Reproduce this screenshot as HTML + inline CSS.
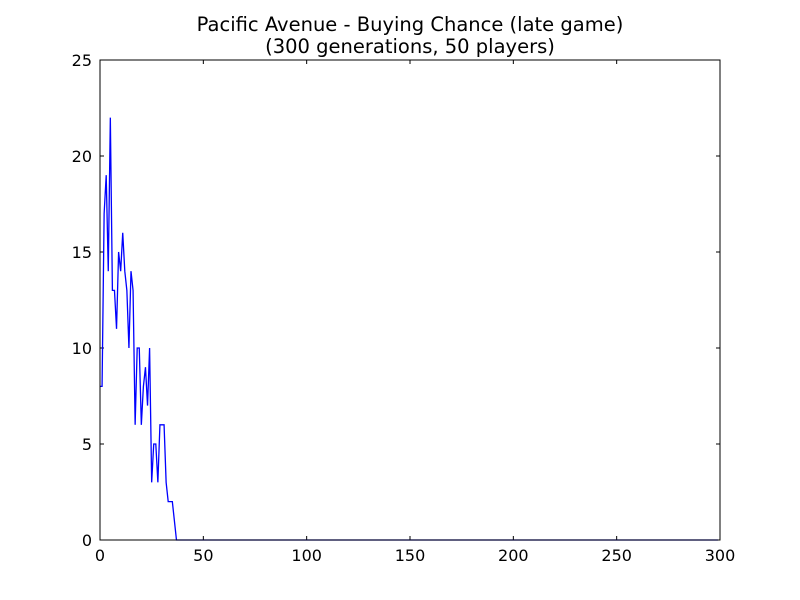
<!DOCTYPE html>
<html><head><meta charset="utf-8"><style>
body{margin:0;background:#fff}
svg{display:block;font-family:"DejaVu Sans","Liberation Sans",sans-serif}
</style></head><body>
<svg id="chart" width="800" height="600" viewBox="0 0 800 600">
<rect width="800" height="600" fill="#fff"/>
<text x="410" y="31" text-anchor="middle" font-size="19.5">Pacific Avenue - Buying Chance (late game)</text>
<text x="410" y="53" text-anchor="middle" font-size="19.5">(300 generations, 50 players)</text>
<g id="ticks"></g>
<polyline id="line" fill="none" stroke="#0000ff" stroke-width="1.3"/>
<rect x="100" y="60" width="620" height="480" fill="none" stroke="#000" stroke-width="1"/>
</svg>
<script>
const values=[8,8,17,19,14,22,13,13,11,15,14,16,14,13,10,14,13,6,10,10,6,8,9,7,10,3,5,5,3,6,6,6,3,2,2,2,1,0];
const xTicks=[0,50,100,150,200,250,300];
const yTicks=[0,5,10,15,20,25];
const totalGenerations=300;
const X0=100,X1=720,Y0=540,Y1=60;
const sx=v=>X0+(v-0)/(300-0)*(X1-X0);
const sy=v=>Y0-(v-0)/(25-0)*(Y0-Y1);
const NS="http://www.w3.org/2000/svg";
const pts=[];
for(let i=0;i<totalGenerations;i++){const v=i<values.length?values[i]:0;pts.push(sx(i)+","+sy(v));}
document.getElementById('line').setAttribute('points',pts.join(' '));
const g=document.getElementById('ticks');
function mk(tag,attrs){const e=document.createElementNS(NS,tag);for(const k in attrs)e.setAttribute(k,attrs[k]);g.appendChild(e);return e;}
xTicks.forEach(t=>{
  const x=sx(t);
  let e=mk('line',{x1:x,x2:x,y1:Y0,y2:Y0-4,stroke:'#000'});
  
  
  e=mk('line',{x1:x,x2:x,y1:Y1,y2:Y1+4,stroke:'#000'});
  
  
  const tx=mk('text',{x:x,y:Y0+21,'text-anchor':'middle','font-size':'16'});
  tx.textContent=t;
  
  
});
yTicks.forEach(t=>{
  const y=sy(t);
  let e=mk('line',{x1:X0,x2:X0+4,y1:y,y2:y,stroke:'#000'});
  
  
  e=mk('line',{x1:X1,x2:X1-4,y1:y,y2:y,stroke:'#000'});
  
  
  const tx=mk('text',{x:X0-8,y:y+6,'text-anchor':'end','font-size':'16'});
  tx.textContent=t;
  
  
});
</script>
</body></html>
